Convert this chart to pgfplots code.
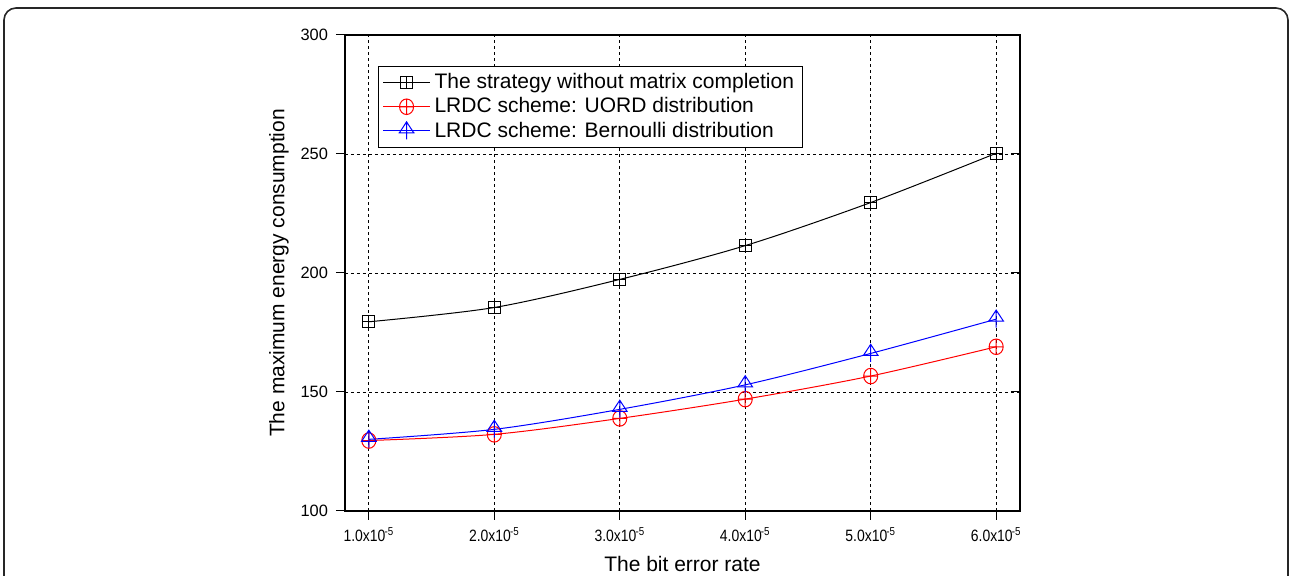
\documentclass[border=0pt]{standalone}
\usepackage{pgfplots}
\pgfplotsset{compat=1.18}
\usepackage{graphicx}
\usepackage{fontspec}
\setmainfont{Liberation Sans}

\pgfdeclareplotmark{boxplus}{%
  \pgfpathrectangle{\pgfpoint{-\pgfplotmarksize}{-\pgfplotmarksize}}{\pgfpoint{2\pgfplotmarksize}{2\pgfplotmarksize}}%
  \pgfpathmoveto{\pgfpoint{-\pgfplotmarksize}{0pt}}\pgfpathlineto{\pgfpoint{\pgfplotmarksize}{0pt}}%
  \pgfpathmoveto{\pgfpoint{0pt}{-\pgfplotmarksize}}\pgfpathlineto{\pgfpoint{0pt}{\pgfplotmarksize}}%
  \pgfusepathqstroke}
\pgfdeclareplotmark{ovalplus}{%
  \pgfpathellipse{\pgfpointorigin}{\pgfpoint{0.95\pgfplotmarksize}{0pt}}{\pgfpoint{0pt}{1.05\pgfplotmarksize}}%
  \pgfpathmoveto{\pgfpoint{-0.95\pgfplotmarksize}{0pt}}\pgfpathlineto{\pgfpoint{0.95\pgfplotmarksize}{0pt}}%
  \pgfpathmoveto{\pgfpoint{0pt}{-1.05\pgfplotmarksize}}\pgfpathlineto{\pgfpoint{0pt}{1.05\pgfplotmarksize}}%
  \pgfusepathqstroke}
\pgfdeclareplotmark{triplus}{%
  \pgfpathmoveto{\pgfpoint{0pt}{1.2\pgfplotmarksize}}%
  \pgfpathlineto{\pgfpoint{-0.95\pgfplotmarksize}{-0.25\pgfplotmarksize}}%
  \pgfpathlineto{\pgfpoint{0.95\pgfplotmarksize}{-0.25\pgfplotmarksize}}%
  \pgfpathclose
  \pgfpathmoveto{\pgfpoint{-1.05\pgfplotmarksize}{-0.25\pgfplotmarksize}}\pgfpathlineto{\pgfpoint{1.05\pgfplotmarksize}{-0.25\pgfplotmarksize}}%
  \pgfpathmoveto{\pgfpoint{0pt}{-1.1\pgfplotmarksize}}\pgfpathlineto{\pgfpoint{0pt}{1.2\pgfplotmarksize}}%
  \pgfusepathqstroke}

\newcommand{\xt}[1]{\scalebox{0.85}[1]{#1x10\textsuperscript{\kern-0.5pt-5}}}

\begin{document}
\begin{tikzpicture}
\useasboundingbox (-172.5pt,-32.5pt) rectangle (472.5pt,255.5pt);
\draw[line width=0.8pt, rounded corners=6pt, black!85] (-170.5pt,-60pt) rectangle (471.5pt,251.5pt);
\begin{axis}[
  at={(0pt,0pt)}, anchor=south west,
  scale only axis, width=337.5pt, height=238pt,
  xmin=0.81, xmax=6.19, ymin=100, ymax=300,
  xtick={1,2,3,4,5,6},
  xticklabels={\xt{1.0},\xt{2.0},\xt{3.0},\xt{4.0},\xt{5.0},\xt{6.0}},
  ytick={100,150,200,250,300},
  xtick pos=bottom, ytick pos=left,
  tick align=outside,
  major tick length=4.5pt,
  tick style={black, line width=0.5pt},
  axis line style={line width=0.8pt},
  grid=major,
  major grid style={black, line width=0.4pt, dash pattern=on 1.5pt off 1.5pt},
  /pgf/number format/assume math mode=true,
  x tick label style={font=\fontsize{8.2}{9}\selectfont, yshift=-0.5pt},
  y tick label style={font=\fontsize{8.2}{9}\selectfont, xshift=-0.5pt},
  xlabel={The bit error rate},
  ylabel={The maximum energy consumption},
  label style={font=\fontsize{10.5}{12}\selectfont},
  xlabel style={at={(axis description cs:0.5,-0.112)}, anchor=center},
  ylabel style={at={(axis description cs:-0.098,0.5)}, anchor=center},
  legend cell align=left,
  legend style={at={(0.049,0.935)}, anchor=north west, draw=black, line width=0.5pt,
    font=\fontsize{10.5}{12}\selectfont, inner xsep=2pt, inner ysep=1.5pt, row sep=-1pt},
  legend image code/.code={\draw[mark repeat=2,mark phase=2,#1] plot coordinates {(0pt,0pt) (11.75pt,0pt) (23.5pt,0pt)};},
]
\addplot[black, line width=0.5pt, smooth, mark=boxplus, mark size=3pt, mark options={solid, line width=0.5pt}]
  coordinates {(1,179.5) (2,185.5) (3,197.3) (4,211.5) (5,229.6) (6,250.3)};
\addlegendentry{The strategy without matrix completion}
\addplot[red, line width=0.5pt, smooth, mark=ovalplus, mark size=3.7pt, mark options={solid, line width=0.5pt}]
  coordinates {(1,129.6) (2,132.2) (3,138.9) (4,147.0) (5,156.7) (6,169.0)};
\addlegendentry{LRDC scheme: UORD distribution}
\addplot[blue, line width=0.5pt, smooth, mark=triplus, mark size=3.8pt, mark options={solid, line width=0.5pt}]
  coordinates {(1,130.1) (2,134.3) (3,142.7) (4,153.0) (5,166.2) (6,180.6)};
\addlegendentry{LRDC scheme: Bernoulli distribution}
\end{axis}
\begin{axis}[
  at={(0pt,0pt)}, anchor=south west,
  scale only axis, width=337.5pt, height=238pt,
  xmin=0.81, xmax=6.19, ymin=100, ymax=300,
  xtick=\empty, ytick={100,150,200,250,300}, yticklabels={},
  ytick pos=right, tick align=inside, major tick length=4.5pt,
  tick style={black, line width=0.5pt},
  axis line style={line width=0.8pt},
]
\end{axis}
\end{tikzpicture}
\end{document}
